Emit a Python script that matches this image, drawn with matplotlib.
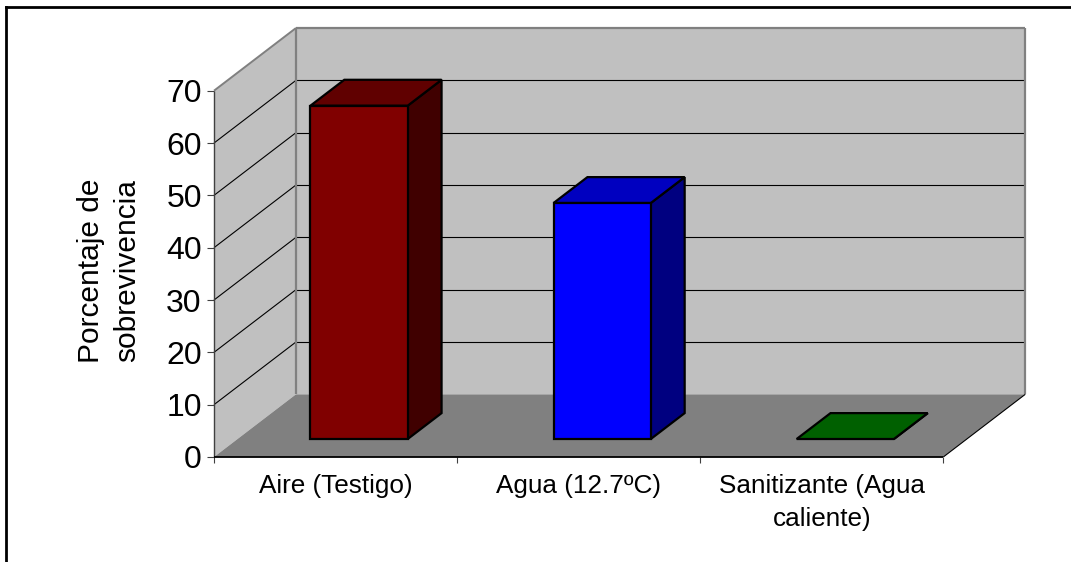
import matplotlib
matplotlib.use("Agg")
import matplotlib.pyplot as plt
from matplotlib.lines import Line2D
from matplotlib.patches import Polygon

plt.rcParams['font.family'] = ['Liberation Sans', 'DejaVu Sans']

categories = ['Aire (Testigo)', 'Agua (12.7ºC)', 'Sanitizante (Agua\ncaliente)']
values = [63.7, 45.1, 0]
front_colors = ['#800000', '#0000FF', '#008000']
top_colors = ['#600000', '#0000C0', '#006000']
side_colors = ['#400000', '#000080', '#004000']
yticks = [0, 10, 20, 30, 40, 50, 60, 70]
ylabel = 'Porcentaje de\nsobrevivencia'

W, H = 1071, 562
fig = plt.figure(figsize=(W / 100, H / 100), dpi=100, facecolor='white')
L, R, T, B = 214, 943.3, 90.7, 457
ax = fig.add_axes([L / W, 1 - B / H, (R - L) / W, (B - T) / H])
ax.set_xlim(0, 3)
ax.set_ylim(0, 70)
ax.patch.set_visible(False)
for s in ax.spines.values():
    s.set_visible(False)

# oblique depth projection: depth 0 (front) .. 1 (back wall)
DX = 82 / ((R - L) / 3)
DY = 62.7 / ((B - T) / 70)


def pr(x, y, d):
    return (x + d * DX, y + d * DY)


def poly(pts, fc, ec='none', lw=0, z=1):
    ax.add_patch(Polygon(pts, closed=True, facecolor=fc, edgecolor=ec, linewidth=lw,
                         joinstyle='miter', clip_on=False, zorder=z))


def line(p, q, color, lw, z):
    ax.add_line(Line2D([p[0], q[0]], [p[1], q[1]], color=color, lw=lw, clip_on=False,
                       zorder=z, solid_capstyle='butt'))


ymax = yticks[-1]
# walls and floor
poly([pr(0, 0, 1), pr(3, 0, 1), pr(3, ymax, 1), pr(0, ymax, 1)], '#C0C0C0', z=1)
poly([pr(0, 0, 0), pr(0, 0, 1), pr(0, ymax, 1), pr(0, ymax, 0)], '#C0C0C0', z=1)
poly([pr(0, 0, 0), pr(3, 0, 0), pr(3, 0, 1), pr(0, 0, 1)], '#808080', z=1.1)

# gridlines
for v in yticks[1:-1]:
    line(pr(0, v, 0), pr(0, v, 1), 'black', 0.8, 2)
    line(pr(0, v, 1), pr(3, v, 1), 'black', 0.8, 2)

# wall edges
gray = '#808080'
line(pr(0, ymax, 0), pr(0, ymax, 1), gray, 1.4, 2.5)
line(pr(0, ymax, 1), pr(3, ymax, 1), gray, 1.6, 2.5)
line(pr(3, ymax, 1), pr(3, 0, 1), gray, 1.6, 2.5)
line(pr(0, ymax, 1), pr(0, 0, 1), gray, 1.6, 2.5)
line(pr(3, 0, 0), pr(3, 0, 1), 'black', 0.8, 2.5)
line(pr(0, 0, 0), pr(0, ymax, 0), '#404040', 1.0, 2.6)
line(pr(0, 0, 0), pr(3, 0, 0), 'black', 1.3, 2.6)

# bars
d0, d1, bw = 0.287, 0.70, 0.40
elw = 1.6
for i, v in enumerate(values):
    a, b = i + 0.5 - bw / 2, i + 0.5 + bw / 2
    poly([pr(b, 0, d0), pr(b, 0, d1), pr(b, v, d1), pr(b, v, d0)], side_colors[i], 'black', elw, 3)
    poly([pr(a, v, d0), pr(b, v, d0), pr(b, v, d1), pr(a, v, d1)], top_colors[i], 'black', elw, 3.1)
    if v > 0:
        poly([pr(a, 0, d0), pr(b, 0, d0), pr(b, v, d0), pr(a, v, d0)], front_colors[i], 'black', elw, 3.2)

# axes text
ax.set_yticks(yticks)
ax.tick_params(axis='y', which='major', length=4.8, width=0.8, color='#404040',
               labelsize=23, pad=4, labelcolor='black')
ax.set_xticks([0, 1, 2, 3])
ax.set_xticklabels([])
ax.set_xticks([0.5, 1.5, 2.5], categories, minor=True)
ax.tick_params(axis='x', which='major', length=4.4, width=0.8, color='#404040')
ax.tick_params(axis='x', which='minor', length=0, labelsize=18.8, pad=12.5, labelcolor='black')
for t in ax.get_xminorticklabels():
    t.set_linespacing(1.47)
ax.set_ylabel(ylabel, fontsize=21.5, linespacing=1.35)
ax.yaxis.set_label_coords((141 - L) / (R - L), (B - 271) / (B - T))

# outer frame: only top and left edges are in view
fig.add_artist(Line2D([5.5 / W, 5.5 / W], [0, 1 - 7 / H], color='black', lw=2.0,
                      transform=fig.transFigure, solid_capstyle='projecting'))
fig.add_artist(Line2D([5.5 / W, 1], [1 - 7 / H, 1 - 7 / H], color='black', lw=2.0,
                      transform=fig.transFigure, solid_capstyle='projecting'))

fig.savefig('out.png', dpi=100, facecolor='white')
